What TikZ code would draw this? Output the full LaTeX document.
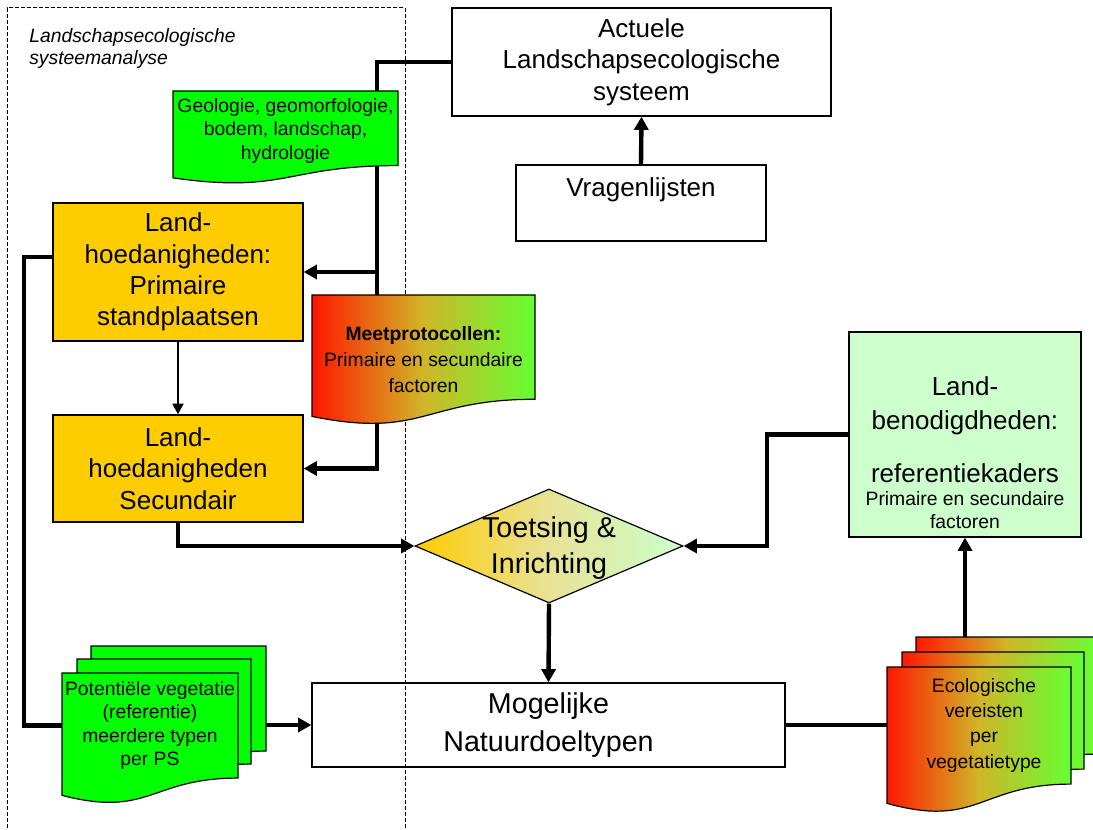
\documentclass[tikz,border=0pt]{standalone}
\usepackage{fontspec}
\setmainfont{Liberation Sans}
\usetikzlibrary{arrows.meta,shapes.geometric,calc}
\pgfdeclarelayer{bg}
\pgfsetlayers{bg,main}
\definecolor{yel}{HTML}{FFCC00}
\definecolor{grn}{HTML}{00FF00}
\definecolor{lgrn}{HTML}{CCFFCC}
\definecolor{gred}{HTML}{FF1800}
\definecolor{gmid}{RGB}{208,182,40}
\definecolor{ggrn}{HTML}{66FF33}
\definecolor{dmid}{RGB}{232,226,150}
\newcommand{\fbig}{\fontsize{19.5pt}{23.5pt}\selectfont}
\newcommand{\fmid}{\fontsize{14.5pt}{17.5pt}\selectfont}
\newcommand{\fdia}{\fontsize{21.5pt}{27pt}\selectfont}
% document shape: options, x1, y1 (top), x2, y2 (full height)
\newcommand{\docshape}[5]{%
  \path[#1] (#2,#3) -- (#4,#3) -- (#4,{#3+0.802*(#5-#3)})
    .. controls ({(#2+#4)/2},{#3+0.802*(#5-#3)}) and ({(#2+#4)/2},{#3+1.108*(#5-#3)}) ..
    (#2,{#3+0.934*(#5-#3)}) -- cycle;}
\begin{document}
\begin{tikzpicture}[x=0.75pt,y=-0.75pt,
  bw/.style={minimum width={#1*0.75pt}},
  bh/.style={minimum height={#1*0.75pt}},
  box/.style={draw, line width=0.9pt, inner sep=0pt, align=center, font=\fbig},
  docsty/.style={draw, line width=0.9pt},
  docarea/.style={inner sep=0pt, align=center, font=\fmid},
  txt/.style={inner sep=0pt, align=center},
  conn/.style={line width=3.3pt},
  arr/.style={conn, -{Triangle[length=10pt,width=10.5pt]}},
  thinarr/.style={line width=2.2pt, -{Triangle[length=8pt,width=8pt]}},
  frame/.style={line width=0.75pt, dash pattern=on 3pt off 1.5pt},
  grad/.style={left color=gred, right color=ggrn, middle color=gmid},
]
\useasboundingbox (0,0) rectangle (1093,830);

% title
\node[txt, anchor=north west, align=left, font=\fontsize{14.5pt}{17pt}\selectfont\itshape] (title) at (29,28) {Landschapsecologische\\systeemanalyse};

% boxes
\node[box, bw=379, bh=108] (act) at (641.5,62) {Actuele\\Landschapsecologische\\systeem};
\node[box, bw=250, bh=76] (vrag) at (641,203) {};
\node[txt, font=\fbig] (vragtxt) at (641,190) {Vragenlijsten};

\node[box, fill=yel, bw=250, bh=138] (prim) at (178,272) {Land-\\hoedanigheden:\\Primaire\\standplaatsen};
\node[box, fill=yel, bw=250, bh=107] (sec) at (178,468.5) {Land-\\hoedanigheden\\Secundair};

\node[diamond, draw, line width=0.9pt, left color=yel, right color=lgrn, middle color=dmid, inner sep=0pt,
      minimum width={268*0.75pt}, minimum height={114*0.75pt}] (toets) at (549,546) {};
\node[txt, font=\fdia] (toetstxt) at (549,548) {Toetsing \&\\Inrichting};

\node[box, font=\fontsize{21.5pt}{28pt}\selectfont, bw=473, bh=84] (mog) at (548.5,725) {Mogelijke\\Natuurdoeltypen};

\node[box, fill=lgrn, bw=232, bh=205] (land) at (965,434.5) {};
\node[txt, font=\fontsize{19.5pt}{25.5pt}\selectfont] (landA) at (965,406) {Land-\\benodigdheden:};
\node[txt, font=\fbig] (landB) at (965,473) {referentiekaders};
\node[txt, font=\fontsize{14.5pt}{17pt}\selectfont] (landC) at (965,510) {Primaire en secundaire\\factoren};

% documents
\docshape{docsty, fill=grn}{173}{91}{398}{184}
\node[docarea, bw=225, bh=79] (geo) at (285.5,131) {Geologie, geomorfologie,\\bodem, landschap,\\hydrologie};

\docshape{docsty, grad}{312}{295}{535}{425}
\node[docarea, font=\fontsize{14.5pt}{19.5pt}\selectfont, bw=223, bh=129] (meet) at (423.5,359.5) {\textbf{Meetprotocollen:}\\Primaire en secundaire\\factoren};

\docshape{docsty, fill=grn}{91}{646}{266}{777}
\docshape{docsty, fill=grn}{77}{659}{251}{790}
\docshape{docsty, fill=grn}{62}{673}{238}{804}
\node[docarea, bw=176, bh=105] (pot) at (150,725.5) {Potentiële vegetatie\\(referentie)\\meerdere typen\\per PS};

\docshape{docsty, grad}{916}{637}{1098}{783}
\docshape{docsty, grad}{902}{652}{1084}{798}
\docshape{docsty, grad}{887}{667}{1071}{813}
\node[docarea, bw=184, bh=115] (ecol) at (979,724.5) {};
\node[txt, font=\fontsize{14.5pt}{19pt}\selectfont] (ecoltxt) at (984,725) {Ecologische\\vereisten\\per\\vegetatietype};

% connectors and frame behind
\begin{pgfonlayer}{bg}
\draw[frame] (7,834) -- (7,8) -- (405,8) -- (405,834);
\coordinate (jx) at (377,0);
\coordinate (jl) at (24,0);
\coordinate (jr) at (767,0);
\draw[arr] (vrag.north) -- (act.south);
\draw[arr] (act.west) -| (sec.east -| jx) -- (sec.east);
\draw[arr] (prim.east -| jx) -- (prim.east);
\draw[thinarr] (prim.south) -- (sec.north);
\draw[conn] ($(prim.west)+(0,-15)$) -| ($(pot.west -| jl)$) -- (pot.west);
\draw[arr] (sec.south) |- (toets.west);
\draw[arr] (land.west) -| (toets.east -| jr) -- (toets.east);
\draw[arr] (toets.south) -- (mog.north);
\draw[arr] (mog.west -| pot.east) -- (mog.west);
\draw[conn] (mog.east) -- (mog.east -| ecol.west);
\draw[arr] (ecol.north -| land.south) -- (land.south);
\end{pgfonlayer}
\end{tikzpicture}
\end{document}
